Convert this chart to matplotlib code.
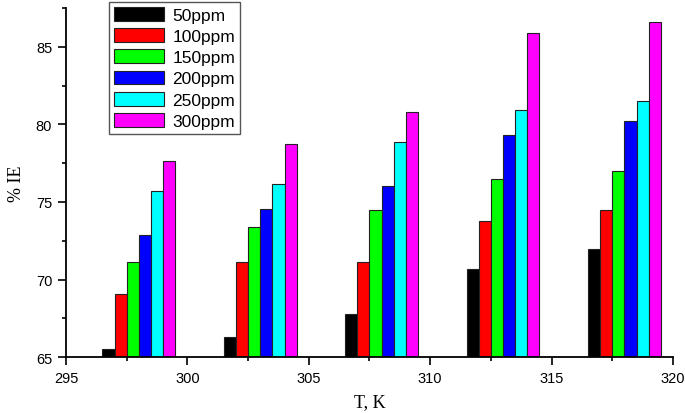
import matplotlib
matplotlib.use("Agg")
import matplotlib.pyplot as plt
from matplotlib.ticker import MultipleLocator
import numpy as np

temperatures = [298, 303, 308, 313, 318]
labels = ["50ppm", "100ppm", "150ppm", "200ppm", "250ppm", "300ppm"]
ie_50 = [65.5, 66.3, 67.8, 70.7, 71.95]
ie_100 = [69.1, 71.15, 71.15, 73.77, 74.47]
ie_150 = [71.1, 73.4, 74.47, 76.5, 77.03]
ie_200 = [72.85, 74.56, 76.02, 79.3, 80.24]
ie_250 = [75.72, 76.15, 78.9, 80.95, 81.5]
ie_300 = [77.67, 78.72, 80.78, 85.92, 86.59]
series = [ie_50, ie_100, ie_150, ie_200, ie_250, ie_300]
colors = ["#000000", "#ff0000", "#00ff00", "#0000ff", "#00ffff", "#ff00ff"]

fig = plt.figure(figsize=(6.85, 4.14), dpi=100)
ax = fig.add_axes([0.0964, 0.135, 0.886, 0.843])

width = 0.5
T = np.array(temperatures, dtype=float)
for i, (vals, c, lab) in enumerate(zip(series, colors, labels)):
    offs = (i - 2.5) * width
    ax.bar(T + offs, vals, width=width, color=c, edgecolor="#222222",
           linewidth=0.8, label=lab, zorder=2)

ax.set_xlim(295, 320)
ax.set_ylim(65, 87.5)
ax.xaxis.set_major_locator(MultipleLocator(5))
ax.xaxis.set_minor_locator(MultipleLocator(2.5))
ax.yaxis.set_major_locator(MultipleLocator(5))
ax.yaxis.set_minor_locator(MultipleLocator(2.5))
for s in ["top", "right"]:
    ax.spines[s].set_visible(False)
for s in ["left", "bottom"]:
    ax.spines[s].set_linewidth(1.3)
    ax.spines[s].set_zorder(3)
ax.tick_params(which="major", direction="out", length=6, width=1.2,
               labelsize=10.5, pad=4)
ax.tick_params(which="minor", direction="out", length=3, width=1.2)
for t in ax.get_xticklabels() + ax.get_yticklabels():
    t.set_fontfamily("Liberation Sans")

ax.set_xlabel("T, K", fontfamily="Liberation Serif", fontsize=13, labelpad=6)
ax.set_ylabel("% IE", fontfamily="Liberation Serif", fontsize=13, labelpad=8)

leg = fig.legend(loc="upper left", bbox_to_anchor=(0.159, 0.993),
                 prop={"family": "Liberation Sans", "size": 12.5},
                 frameon=True, fancybox=False, framealpha=1,
                 edgecolor="#555555", handlelength=2.9, handleheight=0.85,
                 handletextpad=0.45, labelspacing=0.3, borderpad=0.3,
                 borderaxespad=0)
leg.get_frame().set_linewidth(1.0)

fig.savefig("out.png", dpi=100)
